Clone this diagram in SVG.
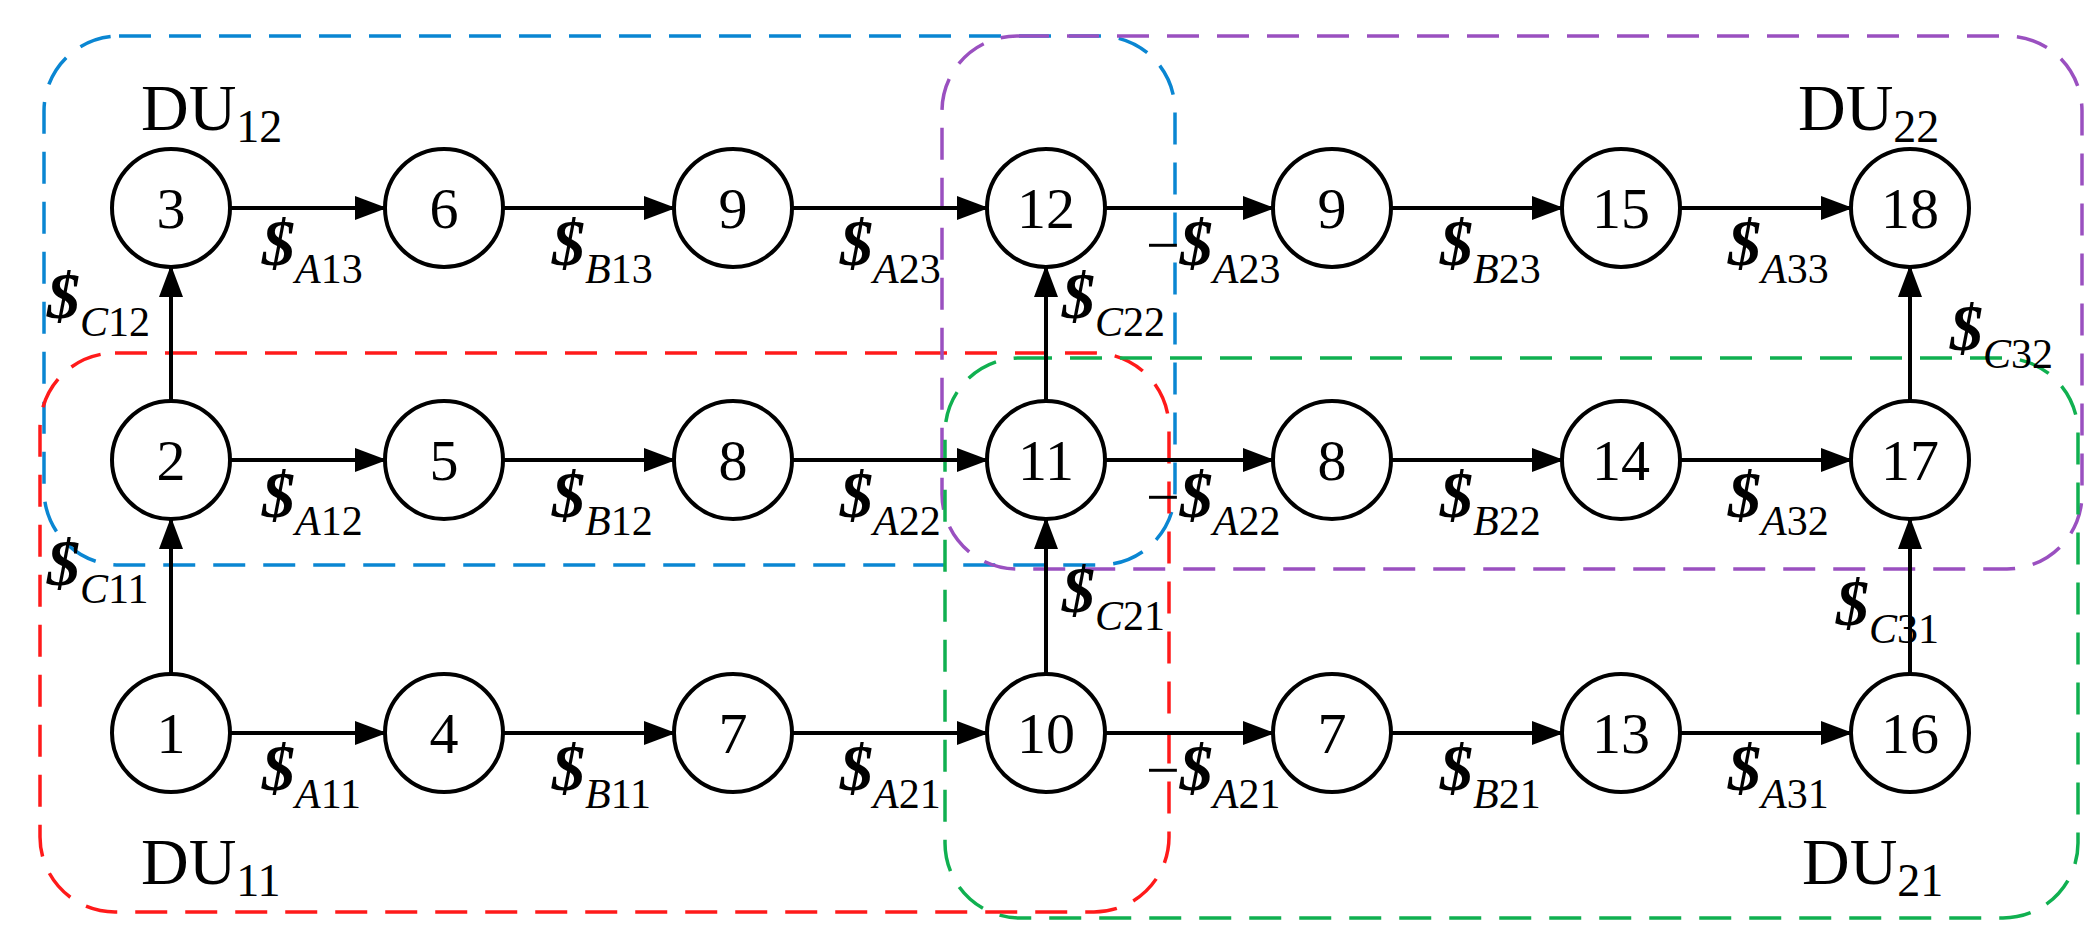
<svg xmlns="http://www.w3.org/2000/svg" width="2099" height="939" viewBox="0 0 2099 939">
<style>
.n circle{fill:#fff;stroke:#000;stroke-width:4}
.n text{font-family:"Liberation Serif",serif;font-size:58px;text-anchor:middle}
.e line{stroke:#000;stroke-width:4}
.b{fill:none;stroke-width:3.5;stroke-dasharray:32 18}
.l{font-family:"Liberation Serif",serif;font-size:42px}
.s{font-weight:bold;font-style:italic;font-size:66px}
.m{font-size:60px}
.i{font-style:italic}
.du{font-family:"Liberation Serif",serif;font-size:66px}
</style>
<defs><marker id="a" markerUnits="userSpaceOnUse" markerWidth="32" markerHeight="24" refX="30" refY="12" orient="auto"><path d="M0,0L32,12L0,24Z"/></marker></defs>
<rect width="2099" height="939" fill="#fff"/>
<g id="boxes">
<rect class="b" x="44" y="36" width="1131" height="529" rx="75" stroke="#0a86d2"/>
<rect class="b" x="40" y="353" width="1129" height="559" rx="75" stroke="#ff1a1a"/>
<rect class="b" x="942" y="36" width="1140" height="533" rx="75" stroke="#9a50c0"/>
<rect class="b" x="945" y="358" width="1133" height="560" rx="75" stroke="#10b050"/>
</g>
<g class="e" id="connectors" marker-end="url(#a)">
<line x1="230" y1="208" x2="385" y2="208"/><line x1="503" y1="208" x2="674" y2="208"/><line x1="792" y1="208" x2="987" y2="208"/><line x1="1105" y1="208" x2="1273" y2="208"/><line x1="1391" y1="208" x2="1562" y2="208"/><line x1="1680" y1="208" x2="1851" y2="208"/>
<line x1="230" y1="460" x2="385" y2="460"/><line x1="503" y1="460" x2="674" y2="460"/><line x1="792" y1="460" x2="987" y2="460"/><line x1="1105" y1="460" x2="1273" y2="460"/><line x1="1391" y1="460" x2="1562" y2="460"/><line x1="1680" y1="460" x2="1851" y2="460"/>
<line x1="230" y1="733" x2="385" y2="733"/><line x1="503" y1="733" x2="674" y2="733"/><line x1="792" y1="733" x2="987" y2="733"/><line x1="1105" y1="733" x2="1273" y2="733"/><line x1="1391" y1="733" x2="1562" y2="733"/><line x1="1680" y1="733" x2="1851" y2="733"/>
<line x1="171" y1="674" x2="171" y2="519"/><line x1="171" y1="401" x2="171" y2="267"/>
<line x1="1046" y1="674" x2="1046" y2="519"/><line x1="1046" y1="401" x2="1046" y2="267"/>
<line x1="1910" y1="674" x2="1910" y2="519"/><line x1="1910" y1="401" x2="1910" y2="267"/>
</g>
<g id="nodes">
<g class="n" id="n3"><circle cx="171" cy="208" r="59"/><text x="171" y="228">3</text></g>
<g class="n" id="n6"><circle cx="444" cy="208" r="59"/><text x="444" y="228">6</text></g>
<g class="n" id="n9"><circle cx="733" cy="208" r="59"/><text x="733" y="228">9</text></g>
<g class="n" id="n12"><circle cx="1046" cy="208" r="59"/><text x="1046" y="228">12</text></g>
<g class="n" id="n9b"><circle cx="1332" cy="208" r="59"/><text x="1332" y="228">9</text></g>
<g class="n" id="n15"><circle cx="1621" cy="208" r="59"/><text x="1621" y="228">15</text></g>
<g class="n" id="n18"><circle cx="1910" cy="208" r="59"/><text x="1910" y="228">18</text></g>
<g class="n" id="n2"><circle cx="171" cy="460" r="59"/><text x="171" y="480">2</text></g>
<g class="n" id="n5"><circle cx="444" cy="460" r="59"/><text x="444" y="480">5</text></g>
<g class="n" id="n8"><circle cx="733" cy="460" r="59"/><text x="733" y="480">8</text></g>
<g class="n" id="n11"><circle cx="1046" cy="460" r="59"/><text x="1046" y="480">11</text></g>
<g class="n" id="n8b"><circle cx="1332" cy="460" r="59"/><text x="1332" y="480">8</text></g>
<g class="n" id="n14"><circle cx="1621" cy="460" r="59"/><text x="1621" y="480">14</text></g>
<g class="n" id="n17"><circle cx="1910" cy="460" r="59"/><text x="1910" y="480">17</text></g>
<g class="n" id="n1"><circle cx="171" cy="733" r="59"/><text x="171" y="753">1</text></g>
<g class="n" id="n4"><circle cx="444" cy="733" r="59"/><text x="444" y="753">4</text></g>
<g class="n" id="n7"><circle cx="733" cy="733" r="59"/><text x="733" y="753">7</text></g>
<g class="n" id="n10"><circle cx="1046" cy="733" r="59"/><text x="1046" y="753">10</text></g>
<g class="n" id="n7b"><circle cx="1332" cy="733" r="59"/><text x="1332" y="733" dy="20">7</text></g>
<g class="n" id="n13"><circle cx="1621" cy="733" r="59"/><text x="1621" y="753">13</text></g>
<g class="n" id="n16"><circle cx="1910" cy="733" r="59"/><text x="1910" y="753">16</text></g>
</g>
<g id="labels" class="l">
<text x="262" y="265"><tspan class="s">$</tspan><tspan class="i" dy="18">A</tspan>13</text>
<text x="552" y="265"><tspan class="s">$</tspan><tspan class="i" dy="18">B</tspan>13</text>
<text x="840" y="265"><tspan class="s">$</tspan><tspan class="i" dy="18">A</tspan>23</text>
<text x="1146" y="265"><tspan class="m">−</tspan><tspan class="s">$</tspan><tspan class="i" dy="18">A</tspan>23</text>
<text x="1440" y="265"><tspan class="s">$</tspan><tspan class="i" dy="18">B</tspan>23</text>
<text x="1728" y="265"><tspan class="s">$</tspan><tspan class="i" dy="18">A</tspan>33</text>
<text x="262" y="517"><tspan class="s">$</tspan><tspan class="i" dy="18">A</tspan>12</text>
<text x="552" y="517"><tspan class="s">$</tspan><tspan class="i" dy="18">B</tspan>12</text>
<text x="840" y="517"><tspan class="s">$</tspan><tspan class="i" dy="18">A</tspan>22</text>
<text x="1146" y="517"><tspan class="m">−</tspan><tspan class="s">$</tspan><tspan class="i" dy="18">A</tspan>22</text>
<text x="1440" y="517"><tspan class="s">$</tspan><tspan class="i" dy="18">B</tspan>22</text>
<text x="1728" y="517"><tspan class="s">$</tspan><tspan class="i" dy="18">A</tspan>32</text>
<text x="262" y="790"><tspan class="s">$</tspan><tspan class="i" dy="18">A</tspan>11</text>
<text x="552" y="790"><tspan class="s">$</tspan><tspan class="i" dy="18">B</tspan>11</text>
<text x="840" y="790"><tspan class="s">$</tspan><tspan class="i" dy="18">A</tspan>21</text>
<text x="1146" y="790"><tspan class="m">−</tspan><tspan class="s">$</tspan><tspan class="i" dy="18">A</tspan>21</text>
<text x="1440" y="790"><tspan class="s">$</tspan><tspan class="i" dy="18">B</tspan>21</text>
<text x="1728" y="790"><tspan class="s">$</tspan><tspan class="i" dy="18">A</tspan>31</text>
<text x="47" y="318"><tspan class="s">$</tspan><tspan class="i" dy="18">C</tspan>12</text>
<text x="47" y="585"><tspan class="s">$</tspan><tspan class="i" dy="18">C</tspan>11</text>
<text x="1062" y="318"><tspan class="s">$</tspan><tspan class="i" dy="18">C</tspan>22</text>
<text x="1062" y="612"><tspan class="s">$</tspan><tspan class="i" dy="18">C</tspan>21</text>
<text x="1950" y="350"><tspan class="s">$</tspan><tspan class="i" dy="18">C</tspan>32</text>
<text x="1836" y="625"><tspan class="s">$</tspan><tspan class="i" dy="18">C</tspan>31</text>
</g>
<g id="du" class="du">
<text x="141" y="130">DU<tspan font-size="46" dy="12">12</tspan></text>
<text x="1798" y="130">DU<tspan font-size="46" dy="12">22</tspan></text>
<text x="141" y="884">DU<tspan font-size="46" dy="12">11</tspan></text>
<text x="1802" y="884">DU<tspan font-size="46" dy="12">21</tspan></text>
</g>
</svg>
